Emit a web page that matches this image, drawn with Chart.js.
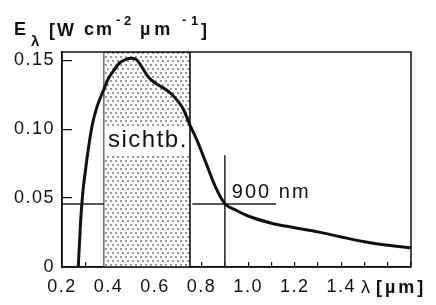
<!DOCTYPE html>
<html>
<head>
<meta charset="utf-8">
<script src="https://cdn.jsdelivr.net/npm/chart.js@4.4.1/dist/chart.umd.min.js"></script>
<style>
  html, body { margin: 0; padding: 0; background: #fff; }
  #wrap { width: 436px; height: 305px; }
</style>
</head>
<body>
<div id="wrap"><canvas id="chart" width="436" height="305"></canvas></div>
<script>
// spectral irradiance curve
const wavelength = [0.27, 0.28, 0.29, 0.30, 0.31, 0.33, 0.35, 0.38, 0.40, 0.42, 0.45, 0.48, 0.50, 0.52, 0.54, 0.57,
                    0.60, 0.63, 0.66, 0.69, 0.72, 0.75, 0.78, 0.82, 0.86, 0.90, 0.95, 1.00, 1.10, 1.20, 1.30, 1.40,
                    1.50, 1.60, 1.70];
const irradiance = [0, 0.033, 0.055, 0.069, 0.082, 0.103, 0.116, 0.129, 0.137, 0.142, 0.1485, 0.151, 0.1515, 0.1505, 0.146, 0.138,
                    0.1335, 0.1305, 0.127, 0.122, 0.115, 0.103, 0.092, 0.075, 0.058, 0.046, 0.041, 0.037, 0.0318, 0.0285, 0.0255, 0.0218,
                    0.0183, 0.0157, 0.014];

// visible band and the 900 nm marker
const visibleBand = [0.38, 0.75];
const levelValue = 0.0457;
const levelSegments = [[0.2, 0.38], [0.76, 1.12]];
const markerWavelength = 0.9;
const markerTop = 0.081;

// axes
const xRange = [0.2, 1.7];
const yRange = [0, 0.156];
const xTickLabels = ['0.2', '0.4', '0.6', '0.8', '1.0', '1.2', '1.4'];
const yTicks = [0, 0.05, 0.10, 0.15];
const yTickLabels = ['0', '0.05', '0.10', '0.15'];

const FONT = 'Liberation Sans, Arial, Helvetica, sans-serif';

// dotted fill for the visible band
function makeDots() {
    const c = document.createElement('canvas');
    c.width = 5; c.height = 8;
    const g = c.getContext('2d');
    g.fillStyle = '#fff';
    g.fillRect(0, 0, 5, 8);
    g.fillStyle = '#999';
    g.fillRect(0, 0, 2, 2);
    g.fillRect(2, 4, 2, 2);
    return g.createPattern(c, 'repeat');
}

const curveData = wavelength.map((x, i) => ({ x: x, y: irradiance[i] }));
const levelData = [];
levelSegments.forEach((s, i) => {
    if (i > 0) levelData.push({ x: (levelSegments[i - 1][1] + s[0]) / 2, y: null });
    levelData.push({ x: s[0], y: levelValue }, { x: s[1], y: levelValue });
});
const markerData = [{ x: markerWavelength, y: 0 }, { x: markerWavelength, y: markerTop }];
const bandData = [
    { x: visibleBand[0], y: 0 }, { x: visibleBand[0], y: yRange[1] },
    { x: visibleBand[1], y: yRange[1] }, { x: visibleBand[1], y: 0 }
];

function txt(ctx, s, x, y, size, bold, spacing) {
    ctx.font = (bold ? 'bold ' : '') + size + 'px ' + FONT;
    ctx.letterSpacing = (spacing || 0) + 'px';
    ctx.fillText(s, x, y);
}

const textPlugin = {
    id: 'texts',
    beforeDraw(chart) {
        chart.ctx.letterSpacing = '1.5px';
    },
    afterDatasetDraw(chart, args) {
        if (args.index !== 3) return;
        // white box with the "sichtb." label inside the band
        const ctx = chart.ctx;
        const xs = chart.scales.x, ys = chart.scales.y;
        const l = xs.getPixelForValue(visibleBand[0]) + 1;
        const r = xs.getPixelForValue(visibleBand[1]) - 1;
        const base = ys.getPixelForValue(0.0872);
        ctx.save();
        ctx.fillStyle = '#fff';
        ctx.fillRect(l, base - 19, r - l, 27);
        ctx.fillStyle = '#111';
        ctx.textAlign = 'center';
        ctx.textBaseline = 'alphabetic';
        txt(ctx, 'sichtb.', (l + r) / 2 + 1, base, 24, false, 1.5);
        ctx.restore();
    },
    afterDraw(chart) {
        const ctx = chart.ctx;
        const a = chart.chartArea;
        const xs = chart.scales.x, ys = chart.scales.y;
        ctx.save();
        // frame
        ctx.strokeStyle = '#111';
        ctx.lineWidth = 1.5;
        ctx.strokeRect(a.left, a.top, a.right - a.left, a.bottom - a.top);

        ctx.fillStyle = '#111';
        ctx.textAlign = 'left';
        ctx.textBaseline = 'alphabetic';
        // 900 nm label
        txt(ctx, '900 nm', xs.getPixelForValue(markerWavelength) + 7, ys.getPixelForValue(levelValue) - 6, 20, false, 2);

        // y axis title: E_lambda [W cm^-2 um^-1]
        txt(ctx, 'E', 14, 35, 18, true, 0);
        txt(ctx, 'λ', 31, 46, 15, true, 0);
        txt(ctx, '[W', 49, 36, 18, true, 2);
        txt(ctx, 'cm', 84, 35, 18, true, 2);
        txt(ctx, '-', 116, 24, 13, true, 0);
        txt(ctx, '2', 124, 25, 13, true, 0);
        txt(ctx, 'µm', 140, 35, 18, true, 4);
        txt(ctx, '-', 182, 24, 13, true, 0);
        txt(ctx, '1', 191, 25, 13, true, 0);
        txt(ctx, ']', 201, 36, 18, true, 0);

        // x axis title
        txt(ctx, 'λ', 361, 293, 18, false, 0);
        txt(ctx, '[µm]', 376, 293, 18, true, 3);
        ctx.restore();
    }
};

new Chart(document.getElementById('chart'), {
    type: 'line',
    data: {
        datasets: [
            {
                data: curveData,
                borderColor: '#111',
                borderWidth: 3,
                pointRadius: 0,
                fill: false,
                cubicInterpolationMode: 'monotone'
            },
            {
                data: levelData,
                borderColor: '#222',
                borderWidth: 1.3,
                pointRadius: 0,
                fill: false,
                spanGaps: false
            },
            {
                data: markerData,
                borderColor: '#222',
                borderWidth: 1.5,
                pointRadius: 0,
                fill: false
            },
            {
                data: bandData,
                borderColor: '#222',
                borderWidth: 1,
                pointRadius: 0,
                backgroundColor: makeDots(),
                fill: 'origin'
            }
        ]
    },
    options: {
        responsive: false,
        animation: false,
        devicePixelRatio: 1,
        layout: { padding: { top: 52, right: 25, left: 0, bottom: 0 } },
        plugins: {
            legend: { display: false },
            tooltip: { enabled: false }
        },
        scales: {
            x: {
                type: 'linear',
                min: xRange[0],
                max: xRange[1],
                afterFit: s => { s.height = 38; },
                grid: { drawOnChartArea: false, tickLength: -5, color: '#111', lineWidth: 1.2 },
                border: { color: '#111', width: 1.5 },
                ticks: {
                    stepSize: 0.1,
                    autoSkip: false,
                    maxRotation: 0,
                    padding: 14,
                    color: '#111',
                    font: { family: FONT, size: 18 },
                    callback: v => {
                        const s = Number(v).toFixed(1);
                        return xTickLabels.includes(s) ? s : '';
                    }
                }
            },
            y: {
                min: yRange[0],
                max: yRange[1],
                afterFit: s => { s.width = 62; },
                afterBuildTicks: s => { s.ticks = yTicks.map(v => ({ value: v })); },
                grid: { drawOnChartArea: false, tickLength: -10, color: '#111', lineWidth: 1.2 },
                border: { color: '#111', width: 1.5 },
                ticks: {
                    padding: 17,
                    color: '#111',
                    font: { family: FONT, size: 18 },
                    callback: v => {
                        const i = yTicks.findIndex(t => Math.abs(t - v) < 1e-9);
                        return i >= 0 ? yTickLabels[i] : '';
                    }
                }
            }
        }
    },
    plugins: [textPlugin]
});
</script>
</body>
</html>
